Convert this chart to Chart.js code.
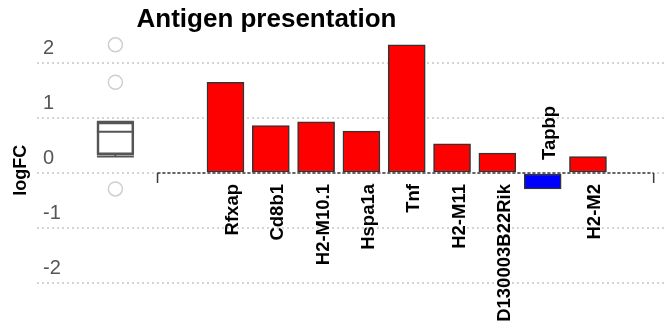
<!DOCTYPE html>
<html>
<head>
<meta charset="utf-8">
<script src="https://cdn.jsdelivr.net/npm/chart.js@4/dist/chart.umd.min.js"></script>
<style>
  html, body { margin: 0; padding: 0; background: #fff; }
</style>
</head>
<body>
<canvas id="antigenChart" width="665" height="329"></canvas>
<script>
const genes = ['Rfxap', 'Cd8b1', 'H2-M10.1', 'Hspa1a', 'Tnf', 'H2-M11', 'D130003B22Rik', 'Tapbp', 'H2-M2'];
const logFC = [1.65, 0.86, 0.93, 0.76, 2.33, 0.53, 0.36, -0.29, 0.30];
const yTicks = [-2, -1, 0, 1, 2];
// low whisker, q1, median, q3, high whisker
const boxStats = [0.30, 0.33, 0.75, 0.93, 0.93];
const boxOutliers = [2.33, 1.65, -0.29];

// layout in x-scale units (bars sit at 1..n)
const X_MIN = -3.16;
const X_MAX = 10.70;
const BOX_X = -1.43;
const AXIS_FROM = -0.5;
const AXIS_TO = 10.45;
const BAR_W = 37;

const FONT = '"Liberation Sans", Arial, Helvetica, sans-serif';
Chart.defaults.font.family = FONT;

const decor = {
    id: 'decor',
    beforeDatasetsDraw(chart) {
        const { ctx, scales: { x, y } } = chart;
        const zero = y.getPixelForValue(0);
        const x0 = x.getPixelForValue(AXIS_FROM);
        const x1 = x.getPixelForValue(AXIS_TO);
        ctx.save();
        ctx.strokeStyle = '#3a3a3a';
        ctx.lineWidth = 1.5;
        ctx.setLineDash([3, 2]);
        ctx.beginPath();
        ctx.moveTo(x0, zero);
        ctx.lineTo(x1, zero);
        ctx.stroke();
        ctx.setLineDash([]);
        ctx.beginPath();
        ctx.moveTo(x0, zero);
        ctx.lineTo(x0, zero + 10);
        ctx.moveTo(x1, zero);
        ctx.lineTo(x1, zero + 10);
        ctx.stroke();
        ctx.restore();
    },
    afterDatasetsDraw(chart) {
        // median + whiskers of the box
        const { ctx, scales: { x, y } } = chart;
        const cx = x.getPixelForValue(BOX_X);
        const half = BAR_W / 2;
        const [lo, q1, med, q3, hi] = boxStats.map(v => y.getPixelForValue(v));
        ctx.save();
        ctx.strokeStyle = '#555';
        ctx.lineWidth = 2;
        ctx.beginPath();
        ctx.moveTo(cx - half, med);
        ctx.lineTo(cx + half, med);
        ctx.moveTo(cx, q1);
        ctx.lineTo(cx, lo);
        ctx.moveTo(cx - half, lo);
        ctx.lineTo(cx + half, lo);
        ctx.moveTo(cx, q3);
        ctx.lineTo(cx, hi);
        ctx.moveTo(cx - half, hi);
        ctx.lineTo(cx + half, hi);
        ctx.stroke();
        ctx.restore();
    },
    afterDraw(chart) {
        const { ctx, scales: { x, y } } = chart;
        const zero = y.getPixelForValue(0);
        ctx.save();
        ctx.fillStyle = '#000';
        ctx.font = `bold 18.5px ${FONT}`;
        genes.forEach((g, i) => {
            const neg = logFC[i] < 0;
            ctx.save();
            ctx.translate(x.getPixelForValue(i + 1) + 12.5, neg ? zero - 13 : zero + 11);
            ctx.rotate(-Math.PI / 2);
            ctx.textAlign = neg ? 'left' : 'right';
            ctx.textBaseline = 'alphabetic';
            ctx.fillText(g, 0, 0);
            ctx.restore();
        });
        ctx.font = `bold 26px ${FONT}`;
        ctx.textAlign = 'center';
        ctx.textBaseline = 'alphabetic';
        ctx.fillText('Antigen presentation', 266.5, 27);
        ctx.restore();
    }
};

const ctx = document.getElementById('antigenChart').getContext('2d');
new Chart(ctx, {
    type: 'bar',
    data: {
        datasets: [
            {
                label: 'logFC',
                data: genes.map((g, i) => ({ x: i + 1, y: logFC[i] })),
                backgroundColor: logFC.map(v => v < 0 ? '#0000ff' : '#ff0000'),
                borderColor: '#333',
                borderWidth: 1.5,
                borderSkipped: false,
                barThickness: BAR_W,
                grouped: false
            },
            {
                label: 'box',
                data: [{ x: BOX_X, y: [boxStats[1], boxStats[3]] }],
                backgroundColor: 'rgba(0,0,0,0)',
                borderColor: '#555',
                borderWidth: 2,
                borderSkipped: false,
                barThickness: BAR_W,
                grouped: false
            },
            {
                type: 'line',
                label: 'outliers',
                data: boxOutliers.map(v => ({ x: BOX_X, y: v })),
                showLine: false,
                pointRadius: 7,
                pointBorderWidth: 1.5,
                pointBorderColor: '#cfcfcf',
                pointBackgroundColor: 'rgba(0,0,0,0)'
            }
        ]
    },
    options: {
        responsive: false,
        animation: false,
        layout: { autoPadding: false, padding: { top: 35.5, bottom: 24, left: 0, right: 0 } },
        plugins: {
            legend: { display: false },
            tooltip: { enabled: false }
        },
        scales: {
            x: {
                type: 'linear',
                display: false,
                offset: false,
                grid: { offset: false },
                min: X_MIN,
                max: X_MAX
            },
            y: {
                min: -2.4,
                max: 2.5,
                afterBuildTicks: (scale) => { scale.ticks = yTicks.map(v => ({ value: v })); },
                afterFit: (scale) => { scale.width = 37; },
                border: { display: false, dash: [2, 3] },
                grid: { color: '#d4d4d4', lineWidth: 2, drawTicks: false },
                ticks: {
                    mirror: true,
                    padding: 6,
                    labelOffset: -15,
                    color: '#555',
                    font: { size: 20 }
                },
                title: {
                    display: true,
                    text: 'logFC',
                    color: '#000',
                    font: { size: 18, weight: 'bold' },
                    padding: { top: 10.7, bottom: 0 }
                }
            }
        }
    },
    plugins: [decor]
});
</script>
</body>
</html>
